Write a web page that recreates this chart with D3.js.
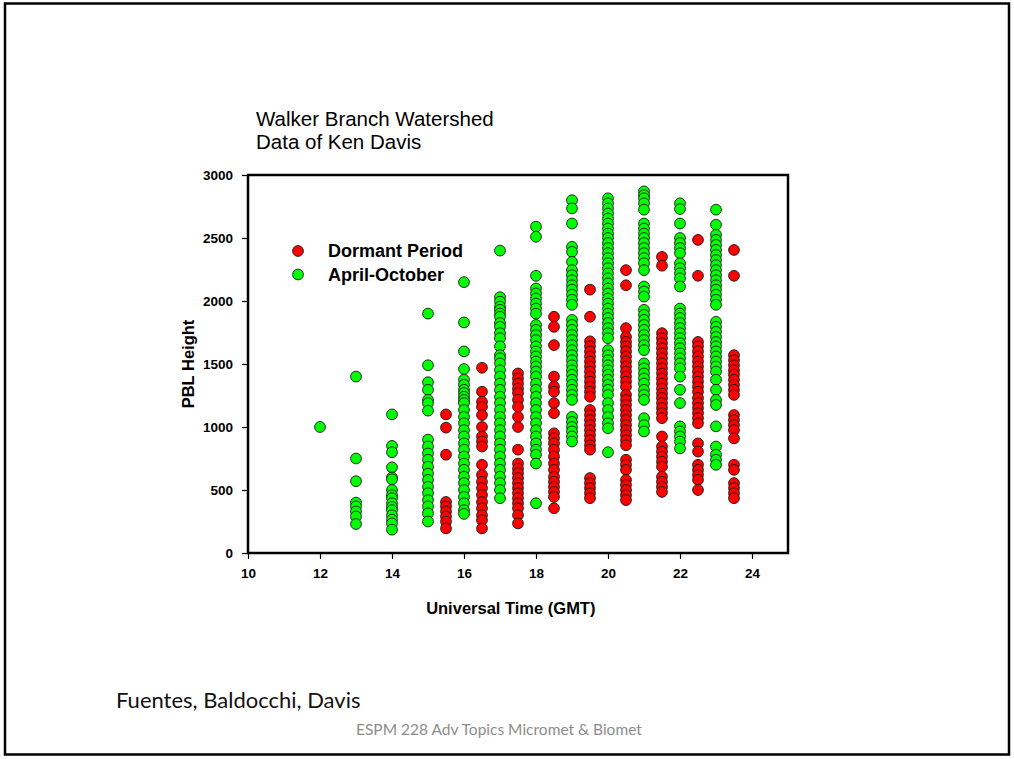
<!DOCTYPE html>
<html>
<head>
<meta charset="utf-8">
<script src="https://cdn.jsdelivr.net/npm/d3@7/dist/d3.min.js"></script>
<style>
  body { margin: 0; background: #fff; }
  svg { display: block; }
</style>
</head>
<body>
<div id="chart"></div>
<script>
// growing season soundings, one array per hour column
const greenHours = [12, 13, 14, 15, 16, 17, 18, 19, 20, 21, 22, 23];
const greenHeights = [
    [1000],
    [1400, 750, 570, 400, 370, 330, 290, 230],
    [1100, 850, 800, 680, 600, 585, 500, 460, 435, 395, 365, 340, 300, 265, 235, 185],
    [1900, 1490, 1355, 1295, 1215, 1190, 1130, 900, 845, 790, 740, 685, 630, 580, 525, 475, 420, 370, 315, 250],
    [2150, 1830, 1600, 1460, 1375, 1335, 1295, 1270, 1240, 1215, 1190, 1135, 1080, 1030, 975, 925, 870, 820, 765, 710, 660, 605, 555, 500, 445, 395, 340, 310],
    [2400, 2030, 1995, 1955, 1930, 1900, 1875, 1825, 1795, 1745, 1705, 1640, 1570, 1545, 1505, 1450, 1400, 1345, 1295, 1240, 1190, 1135, 1080, 1030, 975, 925, 870, 820, 765, 710, 660, 605, 555, 500, 435],
    [2590, 2510, 2200, 2100, 2060, 2020, 1980, 1940, 1900, 1810, 1770, 1730, 1690, 1640, 1600, 1560, 1520, 1480, 1440, 1400, 1345, 1295, 1240, 1190, 1135, 1080, 1030, 975, 925, 870, 820, 780, 710, 395],
    [2800, 2735, 2615, 2430, 2390, 2310, 2245, 2205, 2165, 2125, 2090, 2050, 2010, 1970, 1850, 1810, 1770, 1730, 1690, 1650, 1610, 1570, 1530, 1490, 1450, 1415, 1375, 1335, 1295, 1255, 1215, 1080, 1040, 1000, 965, 925, 885],
    [2815, 2775, 2735, 2695, 2655, 2615, 2575, 2535, 2500, 2460, 2420, 2380, 2340, 2300, 2260, 2220, 2180, 2140, 2100, 2060, 2020, 1980, 1940, 1900, 1865, 1825, 1785, 1745, 1705, 1610, 1570, 1530, 1490, 1450, 1415, 1375, 1335, 1295, 1255, 1190, 1135, 1080, 1030, 990, 800],
    [2870, 2840, 2815, 2775, 2725, 2615, 2575, 2535, 2500, 2460, 2420, 2380, 2340, 2300, 2245, 2115, 2075, 2035, 1930, 1890, 1850, 1810, 1770, 1730, 1690, 1650, 1610, 1505, 1465, 1425, 1385, 1345, 1295, 1255, 1215, 1070, 1015, 965],
    [2775, 2730, 2615, 2500, 2460, 2420, 2380, 2300, 2260, 2220, 2180, 2115, 1940, 1900, 1865, 1825, 1785, 1745, 1705, 1665, 1625, 1585, 1545, 1505, 1465, 1400, 1295, 1190, 1005, 965, 925, 885, 830],
    [2725, 2605, 2525, 2485, 2445, 2405, 2365, 2325, 2285, 2245, 2205, 2165, 2125, 2090, 2050, 2010, 1970, 1835, 1795, 1755, 1715, 1675, 1640, 1600, 1560, 1520, 1480, 1440, 1375, 1295, 1215, 1175, 1005, 845, 780, 740, 700]
];

// dormant period soundings
const redHours = [15.5, 16.5, 17.5, 18.5, 19.5, 20.5, 21.5, 22.5, 23.5];
const redHeights = [
    [1100, 995, 780, 405, 370, 330, 290, 250, 195],
    [1470, 1280, 1200, 1160, 1095, 1000, 925, 885, 845, 700, 620, 565, 515, 460, 405, 355, 300, 260, 195],
    [1425, 1385, 1345, 1305, 1270, 1215, 1160, 1080, 1000, 820, 710, 670, 635, 595, 555, 515, 475, 435, 395, 355, 300, 235],
    [1875, 1795, 1650, 1400, 1320, 1280, 1190, 1110, 950, 910, 870, 820, 765, 710, 660, 605, 565, 525, 485, 445, 355],
    [2090, 1875, 1680, 1640, 1600, 1560, 1520, 1480, 1440, 1400, 1360, 1320, 1280, 1240, 1135, 1095, 1055, 1015, 975, 935, 895, 855, 820, 595, 555, 515, 475, 435],
    [2245, 2125, 1785, 1715, 1675, 1640, 1600, 1560, 1520, 1480, 1440, 1400, 1360, 1320, 1255, 1215, 1175, 1135, 1095, 1055, 1015, 975, 935, 895, 855, 740, 700, 660, 580, 540, 500, 460, 420],
    [2350, 2280, 1745, 1705, 1665, 1625, 1585, 1545, 1505, 1465, 1425, 1385, 1345, 1305, 1265, 1230, 1190, 1150, 1110, 1070, 925, 845, 805, 765, 725, 685, 605, 565, 525, 485],
    [2485, 2200, 1675, 1640, 1600, 1560, 1520, 1480, 1440, 1400, 1360, 1320, 1280, 1230, 1190, 1150, 1110, 1070, 1030, 870, 805, 700, 660, 620, 580, 500],
    [2405, 2200, 1570, 1530, 1490, 1450, 1415, 1375, 1335, 1295, 1255, 1095, 1055, 1015, 975, 910, 700, 660, 555, 515, 475, 435]
];

const xTicks = [10, 12, 14, 16, 18, 20, 22, 24];
const yTicks = [0, 500, 1000, 1500, 2000, 2500, 3000];
const legendLabels = ['Dormant Period', 'April-October'];

const width = 1014;
const height = 759;
const plot = { left: 248, right: 788, top: 175, bottom: 553 };
const red = '#ff0000';
const green = '#00ff00';
const arial = 'Arial, "Liberation Sans", Helvetica, sans-serif';
const slideFont = 'Lato, "Open Sans", sans-serif';

const svg = d3.select('#chart')
    .append('svg')
    .attr('width', width)
    .attr('height', height);

// slide border
svg.append('rect')
    .attr('x', 5).attr('y', 3.5)
    .attr('width', 1004).attr('height', 751)
    .attr('fill', 'none')
    .attr('stroke', '#000')
    .attr('stroke-width', 2.5);

const x = d3.scaleLinear().domain([10, 25]).range([plot.left, plot.right]);
const y = d3.scaleLinear().domain([0, 3000]).range([plot.bottom, plot.top]);

// titles
svg.append('text')
    .attr('x', 256).attr('y', 126)
    .style('font-family', arial).style('font-size', '20.5px')
    .text('Walker Branch Watershed');
svg.append('text')
    .attr('x', 256).attr('y', 149)
    .style('font-family', arial).style('font-size', '20.5px')
    .text('Data of Ken Davis');

// points
const flatten = (hours, heights) => {
    const out = [];
    hours.forEach((h, i) => {
        heights[i].forEach(v => out.push({ hour: h, value: v }));
    });
    return out;
};

const pointGroup = svg.append('g');
[[flatten(greenHours, greenHeights), green], [flatten(redHours, redHeights), red]].forEach(pair => {
    pointGroup.append('g')
        .selectAll('circle')
        .data(pair[0])
        .enter().append('circle')
        .attr('cx', d => x(d.hour))
        .attr('cy', d => y(d.value))
        .attr('r', 5.4)
        .attr('fill', pair[1])
        .attr('stroke', '#1a1a1a')
        .attr('stroke-width', 0.9);
});

// axes
const xAxis = svg.append('g')
    .attr('transform', 'translate(0,' + plot.bottom + ')')
    .call(d3.axisBottom(x).tickValues(xTicks).tickSize(6).tickPadding(9));
const yAxis = svg.append('g')
    .attr('transform', 'translate(' + plot.left + ',0)')
    .call(d3.axisLeft(y).tickValues(yTicks).tickFormat(d3.format('d')).tickSize(6).tickPadding(9));

[xAxis, yAxis].forEach(ax => {
    ax.select('.domain').remove();
    ax.selectAll('line').attr('stroke', '#000').attr('stroke-width', 1.2);
    ax.selectAll('text')
        .attr('fill', '#000')
        .style('font-family', arial)
        .style('font-size', '13.5px')
        .style('font-weight', 'bold');
});

// frame
svg.append('rect')
    .attr('x', plot.left).attr('y', plot.top)
    .attr('width', plot.right - plot.left)
    .attr('height', plot.bottom - plot.top)
    .attr('fill', 'none')
    .attr('stroke', '#000')
    .attr('stroke-width', 2.5);

// axis labels
svg.append('text')
    .attr('x', x(17.3)).attr('y', 614)
    .attr('text-anchor', 'middle')
    .style('font-family', arial).style('font-size', '16.5px').style('font-weight', 'bold')
    .text('Universal Time (GMT)');
svg.append('text')
    .attr('transform', 'translate(194,' + y(1500) + ') rotate(-90)')
    .attr('text-anchor', 'middle')
    .style('font-family', arial).style('font-size', '16.5px').style('font-weight', 'bold')
    .text('PBL Height');

// legend
const legend = svg.append('g');
[red, green].forEach((c, i) => {
    legend.append('circle')
        .attr('cx', 298).attr('cy', 251 + i * 23.5)
        .attr('r', 5.4)
        .attr('fill', c)
        .attr('stroke', '#1a1a1a')
        .attr('stroke-width', 0.9);
    legend.append('text')
        .attr('x', 328).attr('y', 251 + i * 23.5)
        .attr('dy', '0.36em')
        .style('font-family', arial).style('font-size', '18px').style('font-weight', 'bold')
        .text(legendLabels[i]);
});

// footer
svg.append('text')
    .attr('x', 116).attr('y', 708)
    .style('font-family', slideFont).style('font-size', '22px')
    .attr('fill', '#111')
    .text('Fuentes, Baldocchi, Davis');
svg.append('text')
    .attr('x', 356).attr('y', 735)
    .style('font-family', slideFont).style('font-size', '15.5px')
    .attr('fill', '#8c8c8c')
    .text('ESPM 228 Adv Topics Micromet & Biomet');
</script>
</body>
</html>
